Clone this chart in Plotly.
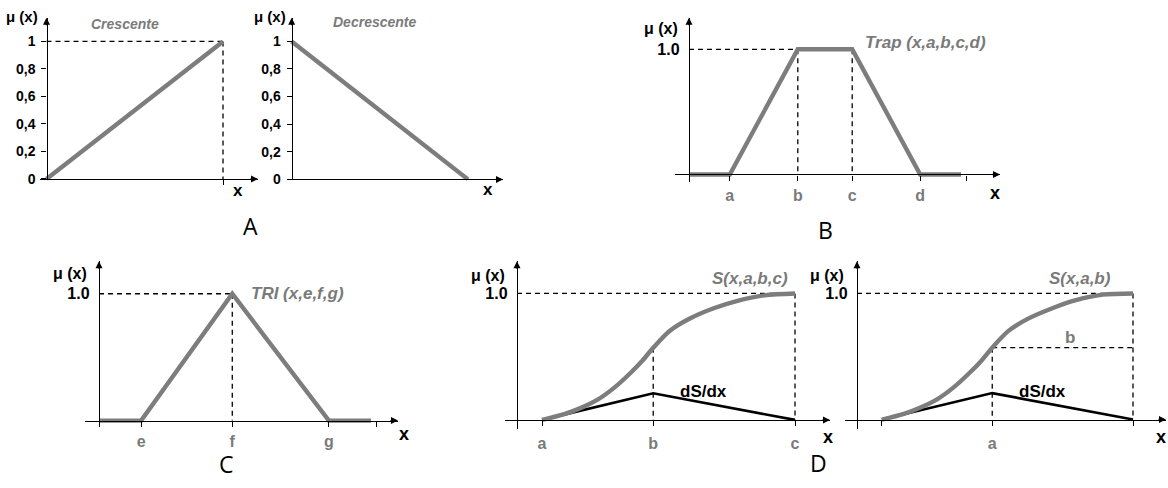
import plotly.graph_objects as go

W, H = 1168, 488

# ---------------- data ----------------
# A: increasing / decreasing linear membership
cres_x = [0, 1]
cres_y = [0, 1]
decr_x = [0, 1]
decr_y = [1, 0]
a_tickvals = [0, 0.2, 0.4, 0.6, 0.8, 1]
a_ticktext = ["0", "0,2", "0,4", "0,6", "0,8", "1"]

# B: trapezoid Trap(x,a,b,c,d)
trap_params = [1.5, 4.0, 6.0, 8.5]
trap_labels = ["a", "b", "c", "d"]
trap_x = [0, 1.5, 4.0, 6.0, 8.5, 10.0]
trap_y = [0, 0, 1, 1, 0, 0]

# C: triangle TRI(x,e,f,g)
tri_params = [1.55, 4.9, 8.45]
tri_labels = ["e", "f", "g"]
tri_x = [0, 1.55, 4.9, 8.45, 10.0]
tri_y = [0, 0, 1, 0, 0]

# D (left): S(x,a,b,c) and its derivative
s3_params = [0.9, 4.9, 10.0]
s3_labels = ["a", "b", "c"]
s3_x = [0.9, 1.7, 2.3, 2.9, 3.5, 4.1, 4.5, 4.9, 5.5, 6.2, 7.1, 7.9, 8.9, 10.0]
s3_y = [0, 0.045, 0.095, 0.16, 0.255, 0.375, 0.465, 0.57, 0.705, 0.80, 0.885, 0.94, 0.985, 1.0]
ds3_x = [0.9, 4.9, 10.0]
ds3_y = [0, 0.21, 0]

# D (right): S(x,a,b) and its derivative
s2_params = [0.9, 4.9, 10.0]
s2_labels = ["", "a", ""]
s2_x = [0.9, 1.7, 2.3, 2.9, 3.5, 4.1, 4.5, 4.9, 5.5, 6.2, 7.1, 7.9, 8.9, 10.0]
s2_y = [0, 0.045, 0.095, 0.16, 0.255, 0.375, 0.465, 0.57, 0.705, 0.80, 0.885, 0.945, 0.99, 1.0]
ds2_x = [0.9, 4.9, 10.0]
ds2_y = [0, 0.21, 0]

# ---------------- styling ----------------
GRAY = "#7d7d7d"
TXT_GRAY = "#7a7a7a"
BOLD = "Liberation Sans"
fig = go.Figure()
layout = dict(width=W, height=H, margin=dict(l=0, r=0, t=0, b=0),
              paper_bgcolor="white", plot_bgcolor="white", showlegend=False)
annotations = []


def panel(i, x0px, sx, xspan, y0px, sy, yspan, xt=None, yt=None, ytick_len=0,
          xstand=2, ystand=6, yfont=15):
    """Set up axis pair i; x0px/y0px are the pixel column/row of the origin."""
    left, right = xspan
    top, bottom = yspan
    xr = [(left - x0px) / sx, (right - x0px) / sx]
    yr = [(y0px - bottom) / sy, (y0px - top) / sy]
    xname = "xaxis" if i == 1 else f"xaxis{i}"
    yname = "yaxis" if i == 1 else f"yaxis{i}"
    xa = dict(domain=[left / W, right / W], range=xr, anchor="free",
              position=1 - y0px / H, showline=True, linecolor="black", linewidth=1.4,
              showgrid=False, zeroline=False, fixedrange=True,
              ticks="outside" if xt else "", ticklen=5, tickcolor="black", tickwidth=1.4,
              ticklabelstandoff=xstand,
              tickfont=dict(family=BOLD, size=16, color=TXT_GRAY, weight="bold"))
    if xt:
        xa.update(tickmode="array", tickvals=xt[0], ticktext=xt[1])
    else:
        xa.update(showticklabels=False)
    ya = dict(domain=[1 - bottom / H, 1 - top / H], range=yr, anchor="free",
              position=x0px / W, showline=True, linecolor="black", linewidth=1.4,
              showgrid=False, zeroline=False, fixedrange=True,
              ticks="outside" if ytick_len else "", ticklen=ytick_len or 5,
              tickcolor="black", tickwidth=1.4, ticklabelstandoff=ystand,
              tickfont=dict(family=BOLD, size=yfont, color="black", weight="bold"),
              tickmode="array", tickvals=yt[0], ticktext=yt[1])
    layout[xname] = xa
    layout[yname] = ya
    xref = "x" if i == 1 else f"x{i}"
    yref = "y" if i == 1 else f"y{i}"
    # arrowheads at the ends of both axes
    annotations.append(dict(x=xr[1], y=0, xref=xref, yref=yref, ax=-9, ay=0,
                            showarrow=True, arrowhead=2, arrowsize=1, arrowwidth=1.4,
                            arrowcolor="black", text=""))
    annotations.append(dict(x=0, y=yr[1], xref=xref, yref=yref, ax=0, ay=9,
                            showarrow=True, arrowhead=2, arrowsize=1, arrowwidth=1.4,
                            arrowcolor="black", text=""))
    return xref, yref


def line(xref, yref, xs, ys, color=GRAY, width=4.4, dash=None, shape="linear"):
    fig.add_trace(go.Scatter(x=xs, y=ys, mode="lines", xaxis=xref, yaxis=yref,
                             line=dict(color=color, width=width, dash=dash, shape=shape,
                                       smoothing=0.9 if shape == "spline" else None),
                             hoverinfo="skip", cliponaxis=False))


def dashed(xref, yref, xs, ys):
    line(xref, yref, xs, ys, color="black", width=1.3, dash="5px,4px")


def text(px, py, s, size=15, color="black", bold=True, italic=False, family=BOLD,
         xanchor="center"):
    annotations.append(dict(x=px / W, y=1 - py / H, xref="paper", yref="paper",
                            text=s, showarrow=False, xanchor=xanchor, yanchor="middle",
                            font=dict(family=family, size=size, color=color,
                                      weight="bold" if bold else "normal",
                                      style="italic" if italic else "normal")))


# ---- A: Crescente ----
xr, yr = panel(1, 46.5, 176.5, (40, 258), 181.5, 139.5, (18, 183),
               xt=([cres_x[-1]], [""]), yt=(a_tickvals, a_ticktext),
               ytick_len=5, ystand=3, yfont=14)
dashed(xr, yr, [0, cres_x[-1]], [cres_y[-1], cres_y[-1]])
dashed(xr, yr, [cres_x[-1], cres_x[-1]], [cres_y[-1], 0])
line(xr, yr, cres_x, cres_y)
text(22, 17, "μ (x)", size=15)
text(125, 24, "Crescente", size=14, color=TXT_GRAY, italic=True)
text(238, 193, "x", size=17)

# ---- A: Decrescente ----
xr, yr = panel(2, 291.7, 176.3, (288, 503), 182, 140, (18, 183),
               yt=(a_tickvals, a_ticktext), ytick_len=5, ystand=3, yfont=14)
line(xr, yr, decr_x, decr_y)
text(270, 17, "μ (x)", size=15)
text(374, 22, "Decrescente", size=14, color=TXT_GRAY, italic=True)
text(488, 192, "x", size=17)

text(250, 229, "A", size=23, bold=False, family="Open Sans")

# ---- B: trapezoid ----
xr, yr = panel(3, 689, 27.2, (675, 1000), 177, 127, (18, 185),
               xt=(trap_params + [10.22], trap_labels + [""]), yt=([1], ["1.0"]),
               xstand=1, yfont=16)
dashed(xr, yr, [0, trap_params[1]], [1, 1])
dashed(xr, yr, [trap_params[1]] * 2, [1, 0])
dashed(xr, yr, [trap_params[2]] * 2, [1, 0])
line(xr, yr, trap_x, trap_y)
text(661, 29, "μ (x)", size=16)
text(925, 43, "Trap (x,a,b,c,d)", size=17, color=TXT_GRAY, italic=True)
text(995, 196, "x", size=18)
text(825, 233, "B", size=23, bold=False, family="Open Sans")

# ---- C: triangle ----
xr, yr = panel(4, 99, 27.2, (85, 398), 426.7, 128.7, (265, 433),
               xt=(tri_params + [10.22], tri_labels + [""]), yt=([1], ["1.0"]),
               xstand=1, yfont=16)
dashed(xr, yr, [0, tri_params[1]], [1, 1])
dashed(xr, yr, [tri_params[1]] * 2, [1, 0])
line(xr, yr, tri_x, tri_y)
text(70, 277, "μ (x)", size=16)
text(297, 298, "TRI (x,e,f,g)", size=17, color=TXT_GRAY, italic=True)
text(404, 440, "x", size=18)
text(226, 471, "C", size=23, bold=False, family="Open Sans")

# ---- D: S(x,a,b,c) ----
xr, yr = panel(5, 517, 27.8, (505, 830), 426, 128.3, (265, 435),
               xt=(s3_params, s3_labels), yt=([1], ["1.0"]), xstand=4, yfont=16)
dashed(xr, yr, [0, s3_params[2]], [1, 1])
dashed(xr, yr, [s3_params[2]] * 2, [1, 0])
dashed(xr, yr, [s3_params[1]] * 2, [s3_y[s3_x.index(s3_params[1])], 0])
line(xr, yr, ds3_x, ds3_y, color="black", width=2.6)
line(xr, yr, s3_x, s3_y, shape="spline")
text(488, 280, "μ (x)", size=16)
text(750, 283, "S(x,a,b,c)", size=17, color=TXT_GRAY, italic=True)
text(703, 397, "dS/dx", size=17)
text(828, 443, "x", size=18)
text(818, 470, "D", size=23, bold=False, family="Open Sans")

# ---- D: S(x,a,b) ----
xr, yr = panel(6, 857, 27.6, (845, 1166), 425.7, 128, (265, 435),
               xt=(s2_params, s2_labels), yt=([1], ["1.0"]), xstand=4, yfont=16)
b_level = s2_y[s2_x.index(s2_params[1])]
dashed(xr, yr, [0, s2_params[2]], [1, 1])
dashed(xr, yr, [s2_params[2]] * 2, [1, 0])
dashed(xr, yr, [s2_params[1]] * 2, [b_level, 0])
dashed(xr, yr, [s2_params[1], s2_params[2]], [b_level, b_level])
line(xr, yr, ds2_x, ds2_y, color="black", width=2.6)
line(xr, yr, s2_x, s2_y, shape="spline")
annotations.append(dict(x=7.7, y=b_level, xref=xr, yref=yr, text="b", showarrow=False,
                        yanchor="bottom", yshift=-1,
                        font=dict(family=BOLD, size=17, color=TXT_GRAY, weight="bold")))
text(827, 280, "μ (x)", size=16)
text(1080, 283, "S(x,a,b)", size=17, color=TXT_GRAY, italic=True)
text(1042, 397, "dS/dx", size=17)
text(1161, 443, "x", size=18)

layout["annotations"] = annotations
fig.update_layout(**layout)
fig.write_html("out.html")
